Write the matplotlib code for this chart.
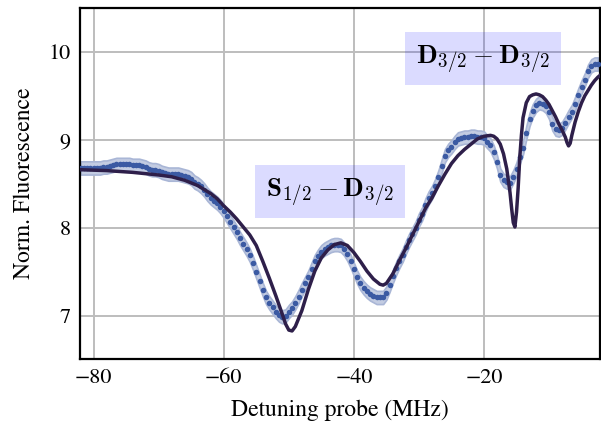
import matplotlib
matplotlib.use("Agg")
import matplotlib.pyplot as plt
import numpy as np

plt.rcParams['font.family'] = 'serif'
plt.rcParams['font.serif'] = ['STIXGeneral', 'Liberation Serif', 'DejaVu Serif']
plt.rcParams['mathtext.fontset'] = 'stix'

# measured fluorescence (dots), 0.5 MHz steps from -82 to -2.5 MHz
det_meas = np.arange(-82.0, -2.49, 0.5)
fluo_meas = [
    8.68, 8.68, 8.68, 8.68, 8.68, 8.68, 8.68, 8.69, 8.69, 8.70,
    8.71, 8.72, 8.72, 8.72, 8.72, 8.72, 8.71, 8.71, 8.71, 8.70,
    8.69, 8.67, 8.66, 8.66, 8.65, 8.63, 8.62, 8.61, 8.61, 8.61,
    8.61, 8.60, 8.59, 8.58, 8.56, 8.52, 8.50, 8.47, 8.43, 8.38,
    8.34, 8.31, 8.28, 8.24, 8.19, 8.13, 8.07, 8.01, 7.95, 7.88,
    7.82, 7.76, 7.69, 7.60, 7.50, 7.40, 7.30, 7.21, 7.15, 7.10,
    7.05, 7.01, 6.99, 7.00, 7.05, 7.09, 7.15, 7.22, 7.30, 7.37,
    7.44, 7.53, 7.62, 7.68, 7.73, 7.76, 7.78, 7.80, 7.81, 7.81,
    7.80, 7.76, 7.70, 7.62, 7.53, 7.44, 7.37, 7.32, 7.28, 7.25,
    7.23, 7.21, 7.21, 7.21, 7.26, 7.35, 7.45, 7.54, 7.62, 7.69,
    7.78, 7.86, 7.93, 8.00, 8.09, 8.16, 8.26, 8.34, 8.40, 8.48,
    8.58, 8.70, 8.82, 8.88, 8.92, 8.97, 9.01, 9.02, 9.03, 9.03,
    9.04, 9.04, 9.03, 9.03, 9.02, 8.98, 8.94, 8.86, 8.75, 8.60,
    8.54, 8.52, 8.51, 8.58, 8.67, 8.80, 8.91, 9.08, 9.23, 9.33,
    9.39, 9.42, 9.41, 9.38, 9.31, 9.18, 9.12, 9.11, 9.13, 9.19,
    9.26, 9.32, 9.41, 9.51, 9.60, 9.68, 9.78, 9.84, 9.86, 9.86,
]
fluo_err = 0.075

# model curve
det_model = [
    -82, -80, -78, -76, -74, -72, -70, -68, -66, -64, -62, -61, -60, -59,
    -58, -57, -56, -55, -54, -53, -52, -51, -50.5, -50, -49.5, -49, -48,
    -47, -46, -45, -44, -43, -42, -41, -40, -39, -38, -37, -36, -35.5, -35,
    -34, -33, -32, -31, -30, -29, -28, -27, -26, -25, -24, -23, -22, -21,
    -20, -19, -18.5, -18, -17.5, -17, -16.5, -16, -15.75, -15.5, -15.25,
    -15, -14.75, -14.5, -14.25, -14, -13.5, -13, -12.5, -12, -11.5, -11,
    -10.5, -10, -9.5, -9, -8.5, -8, -7.5, -7.25, -7, -6.75, -6.5, -6, -5.5,
    -5, -4.5, -4, -3.5, -3, -2.5, -2,
]
fluo_model = [
    8.66, 8.655, 8.65, 8.64, 8.63, 8.615, 8.60, 8.58, 8.54, 8.48, 8.39, 8.33,
    8.25, 8.18, 8.10, 8.01, 7.92, 7.80, 7.62, 7.43, 7.23, 7.02, 6.91, 6.84,
    6.83, 6.88, 7.06, 7.30, 7.51, 7.66, 7.75, 7.81, 7.83, 7.80, 7.72, 7.62,
    7.51, 7.42, 7.36, 7.35, 7.37, 7.48, 7.63, 7.77, 7.92, 8.07, 8.22, 8.34,
    8.48, 8.61, 8.73, 8.82, 8.89, 8.95, 9.01, 9.04, 9.05, 9.04, 9.01, 8.95,
    8.84, 8.67, 8.40, 8.22, 8.06, 8.01, 8.18, 8.45, 8.80, 9.05, 9.25, 9.42,
    9.49, 9.51, 9.52, 9.51, 9.49, 9.45, 9.40, 9.33, 9.26, 9.18, 9.11, 9.03,
    8.97, 8.93, 8.96, 9.05, 9.20, 9.32, 9.42, 9.50, 9.56, 9.62, 9.67, 9.71,
    9.74,
]

fig = plt.figure(figsize=(6.01, 4.24), dpi=100)
ax = fig.add_axes([0.1336, 0.154, 0.8644, 0.826])

fluo_meas = np.array(fluo_meas)
ax.fill_between(det_meas, fluo_meas - fluo_err, fluo_meas + fluo_err,
                facecolor='#c3cce2', edgecolor='#a9b6d6', lw=1.2, zorder=2)
ax.plot(det_meas, fluo_meas, 'o', color='#3b5aa3', ms=4.0, mew=0, zorder=3)
ax.plot(det_model, fluo_model, '-', color='#2e1f4a', lw=2.5, zorder=4)

box = dict(boxstyle='square,pad=0.4', facecolor='#0000ff', alpha=0.14,
           edgecolor='none')
ax.text(-43.7, 8.41, r'$\mathbf{S}_{\mathbf{1/2}}-\mathbf{D}_{\mathbf{3/2}}$',
        fontsize=19.5, math_fontfamily='cm', ha='center', va='center',
        zorder=5, bbox=box)
ax.text(-20.2, 9.92, r'$\mathbf{D}_{\mathbf{3/2}}-\mathbf{D}_{\mathbf{3/2}}$',
        fontsize=19.5, math_fontfamily='cm', ha='center', va='center',
        zorder=5, bbox=box)

ax.set_xlim(-82.05, -2.2)
ax.set_ylim(6.515, 10.49)
ax.set_xticks([-80, -60, -40, -20])
ax.set_yticks([7, 8, 9, 10])
ax.grid(True, color='#bdbdbd', lw=1.4)
ax.set_axisbelow(True)
ax.tick_params(length=0, pad=7, labelsize=16)
for s in ax.spines.values():
    s.set_linewidth(1.6)
    s.set_color('black')

ax.set_xlabel('Detuning probe (MHz)', fontsize=17, labelpad=8)
ax.set_ylabel('Norm. Fluorescence', fontsize=17, labelpad=10)

fig.savefig('out.png', dpi=100)
